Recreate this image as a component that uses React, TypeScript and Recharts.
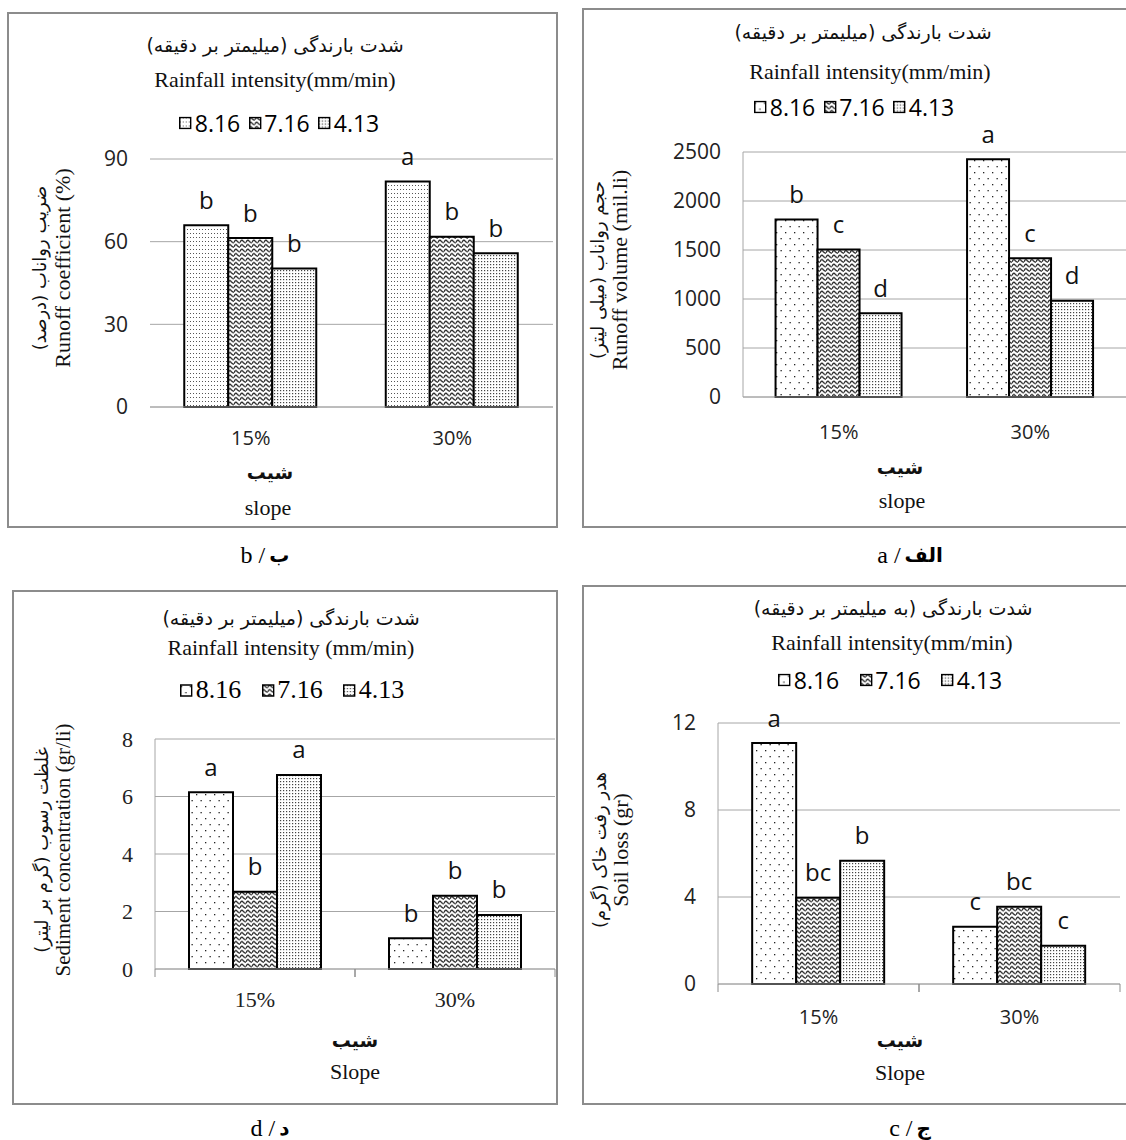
import React from 'react';
import { BarChart, Bar, XAxis, YAxis, CartesianGrid, LabelList } from 'recharts';

const slopes = ['15%', '30%'];
const intensities = ['8.16', '7.16', '4.13'];

// a - runoff volume (ml)
const volume816 = [1810, 2425];
const volume716 = [1505, 1415];
const volume413 = [855, 983];
const volumeLetters = [['b', 'a'], ['c', 'c'], ['d', 'd']];
const volumeTicks = [0, 500, 1000, 1500, 2000, 2500];

// b - runoff coefficient (%)
const coef816 = [66, 81.8];
const coef716 = [61.3, 61.8];
const coef413 = [50.3, 55.8];
const coefLetters = [['b', 'a'], ['b', 'b'], ['b', 'b']];
const coefTicks = [0, 30, 60, 90];

// c - soil loss (gr)
const loss816 = [11.08, 2.63];
const loss716 = [3.97, 3.55];
const loss413 = [5.67, 1.76];
const lossLetters = [['a', 'c'], ['bc', 'bc'], ['b', 'c']];
const lossTicks = [0, 4, 8, 12];

// d - sediment concentration (gr/li)
const sed816 = [6.15, 1.07];
const sed716 = [2.69, 2.55];
const sed413 = [6.75, 1.88];
const sedLetters = [['a', 'b'], ['b', 'b'], ['a', 'b']];
const sedTicks = [0, 2, 4, 6, 8];

const PERSIAN = "'DejaVu Sans', sans-serif";
const SERIF = "'Liberation Serif', 'Times New Roman', serif";
const SANS = "'Open Sans', sans-serif";

const buildRows = (a: number[], b: number[], c: number[], letters: string[][]) =>
  slopes.map((s, i) => ({
    slope: s,
    v0: a[i], v1: b[i], v2: c[i],
    l0: letters[0][i], l1: letters[1][i], l2: letters[2][i],
  }));

const renderLetter = (props: any) => {
  const { x, y, width, value } = props;
  return (
    <text x={Number(x) + Number(width) / 2} y={Number(y) - 26} textAnchor="middle"
      dominantBaseline="central" fontFamily={SANS} fontSize={24} fill="#111">
      {value}
    </text>
  );
};

const Txt = ({ x, y, font, size, bold, rotate, children }: any) => (
  <div style={{
    position: 'absolute', left: x, top: y, whiteSpace: 'nowrap', lineHeight: 1,
    transform: `translate(-50%, -50%)${rotate ? ' rotate(-90deg)' : ''}`,
    fontFamily: font, fontSize: size, fontWeight: bold ? 'bold' : 'normal', color: '#111',
  }}>{children}</div>
);

const Swatch = ({ fill }: { fill: string }) => (
  <svg width={13} height={13} style={{ display: 'block' }}>
    <rect x={1} y={1} width={11} height={11} fill={fill} stroke="#000" strokeWidth={1.5} />
  </svg>
);

const LegendRow = ({ x, y, fills, font, size, gap }: any) => (
  <div style={{
    position: 'absolute', left: x, top: y, transform: 'translate(-50%, -50%)',
    display: 'flex', alignItems: 'center', gap, fontFamily: font, fontSize: size, lineHeight: 1,
  }}>
    {intensities.map((t, i) => (
      <div key={t} style={{ display: 'flex', alignItems: 'center', gap: 3 }}>
        <Swatch fill={fills[i]} />
        <span>{t}</span>
      </div>
    ))}
  </div>
);

const Frame = ({ left, top, width, height }: any) => (
  <div style={{
    position: 'absolute', left, top, width, height, border: '2px solid #8c8c8c', boxSizing: 'border-box',
  }} />
);

const Caption = ({ x, y, latin, persian }: any) => (
  <div style={{ position: 'absolute', left: x, top: y, transform: 'translate(-50%, -50%)', display: 'flex', alignItems: 'center', gap: 4, lineHeight: 1 }}>
    <span style={{ fontFamily: SERIF, fontSize: 24 }}>{latin} /</span>
    <span style={{ fontFamily: PERSIAN, fontSize: 20, fontWeight: 'bold' }}>{persian}</span>
  </div>
);

const Panel = ({ rows, fills, geo, ticks, tickFont, tickSize, xFont, xSize, yLine, edgeTicks }: any) => {
  const plotW = geo.width - geo.margin.left - geo.margin.right - geo.yWidth;
  const half = plotW / (slopes.length * 2);
  const renderXTick = (props: any) => {
    const { x, y, payload } = props;
    const axisY = Number(y) - 6 - geo.xGap;
    return (
      <g>
        {edgeTicks && (
          <>
            <line x1={x - half} x2={x - half} y1={axisY} y2={axisY + 8} stroke="#8c8c8c" />
            <line x1={x + half} x2={x + half} y1={axisY} y2={axisY + 8} stroke="#8c8c8c" />
          </>
        )}
        <text x={x} y={y} dy="0.71em" textAnchor="middle" fontFamily={xFont} fontSize={xSize} fill="#222">
          {payload.value}
        </text>
      </g>
    );
  };
  return (
    <div style={{ position: 'absolute', left: geo.left, top: geo.top }}>
      <BarChart width={geo.width} height={geo.height} data={rows} margin={geo.margin}
        barCategoryGap="17%" barGap={0} style={{ overflow: 'visible' }}>
        <CartesianGrid vertical={false} stroke="#a6a6a6" />
        <XAxis dataKey="slope" axisLine={{ stroke: '#a6a6a6' }} tickLine={false} height={geo.xHeight}
          tickMargin={geo.xGap} tick={renderXTick} />
        <YAxis domain={[ticks[0], ticks[ticks.length - 1]]} ticks={ticks} width={geo.yWidth}
          axisLine={yLine ? { stroke: '#a6a6a6' } : false} tickLine={false} tickMargin={16}
          tick={{ fontFamily: tickFont, fontSize: tickSize, fill: '#222' }} />
        {[0, 1, 2].map(i => (
          <Bar key={i} dataKey={`v${i}`} fill={fills[i]} stroke="#000" strokeWidth={2}
            isAnimationActive={false}>
            <LabelList dataKey={`l${i}`} content={renderLetter} />
          </Bar>
        ))}
      </BarChart>
    </div>
  );
};

const fillsFine = ['url(#dotsFine)', 'url(#wave)', 'url(#dense)'];
const fillsSparse = ['url(#dotsSparse)', 'url(#wave)', 'url(#dense)'];

export default function App() {
  return (
    <div style={{ position: 'absolute', left: 0, top: 0, width: 1126, height: 1140, background: '#fff', overflow: 'hidden' }}>
      <svg width={0} height={0} style={{ position: 'absolute' }}>
        <defs>
          <pattern id="dotsFine" width={3} height={4} patternUnits="userSpaceOnUse">
            <rect width={3} height={4} fill="#fff" />
            <rect x={1} y={1} width={1} height={1} fill="#555" />
          </pattern>
          <pattern id="dotsSparse" width={9} height={12} patternUnits="userSpaceOnUse">
            <rect width={9} height={12} fill="#fff" />
            <rect x={1} y={2} width={1.3} height={1.3} fill="#222" />
            <rect x={5.5} y={8} width={1.3} height={1.3} fill="#222" />
          </pattern>
          <pattern id="wave" width={6} height={4.5} patternUnits="userSpaceOnUse">
            <rect width={6} height={4.5} fill="#fff" />
            <path d="M0 3.4 Q1.5 -0.2 3 2 T6 3.4" stroke="#1a1a1a" strokeWidth={1.2} fill="none" />
          </pattern>
          <pattern id="dense" width={3} height={3} patternUnits="userSpaceOnUse">
            <rect width={3} height={3} fill="#fff" />
            <rect x={1} y={1} width={1.2} height={1.2} fill="#444" />
          </pattern>
        </defs>
      </svg>

      {/* b - runoff coefficient */}
      <Frame left={7} top={12} width={551} height={516} />
      <Txt x={275} y={45} font={PERSIAN} size={19}>شدت بارندگی (میلیمتر بر دقیقه)</Txt>
      <Txt x={275} y={80} font={SERIF} size={22}>Rainfall intensity(mm/min)</Txt>
      <LegendRow x={279} y={123} fills={fillsFine} font={SANS} size={23} gap={8} />
      <Txt x={40} y={268} font={PERSIAN} size={18} rotate>ضریب رواناب (درصد)</Txt>
      <Txt x={63} y={268} font={SERIF} size={22} rotate>Runoff coefficient (%)</Txt>
      <Panel rows={buildRows(coef816, coef716, coef413, coefLetters)} fills={fillsFine}
        geo={{ left: 60, top: 140, width: 500, height: 320, margin: { top: 19, right: 7, bottom: 23, left: 0 }, yWidth: 90, xHeight: 30, xGap: 18 }}
        ticks={coefTicks} tickFont={SANS} tickSize={21} xFont={SANS} xSize={20} yLine={false} edgeTicks={false} />
      <Txt x={270} y={472} font={PERSIAN} size={19} bold>شیب</Txt>
      <Txt x={268} y={508} font={SERIF} size={22}>slope</Txt>
      <Caption x={265} y={555} latin="b" persian="ب" />

      {/* a - runoff volume */}
      <Frame left={582} top={8} width={560} height={520} />
      <Txt x={863} y={32} font={PERSIAN} size={19}>شدت بارندگی (میلیمتر بر دقیقه)</Txt>
      <Txt x={870} y={72} font={SERIF} size={22}>Rainfall intensity(mm/min)</Txt>
      <LegendRow x={854} y={107} fills={fillsSparse} font={SANS} size={23} gap={8} />
      <Txt x={598} y={270} font={PERSIAN} size={18} rotate>حجم رواناب (میلی لیتر)</Txt>
      <Txt x={620} y={270} font={SERIF} size={22} rotate>Runoff volume (mil.li)</Txt>
      <Panel rows={buildRows(volume816, volume716, volume413, volumeLetters)} fills={fillsSparse}
        geo={{ left: 640, top: 110, width: 486, height: 340, margin: { top: 42, right: 0, bottom: 23, left: 0 }, yWidth: 103, xHeight: 30, xGap: 22 }}
        ticks={volumeTicks} tickFont={SANS} tickSize={21} xFont={SANS} xSize={20} yLine edgeTicks={false} />
      <Txt x={900} y={467} font={PERSIAN} size={19} bold>شیب</Txt>
      <Txt x={902} y={501} font={SERIF} size={22}>slope</Txt>
      <Caption x={910} y={555} latin="a" persian="الف" />

      {/* d - sediment concentration */}
      <Frame left={12} top={590} width={546} height={515} />
      <Txt x={291} y={618} font={PERSIAN} size={19}>شدت بارندگی (میلیمتر بر دقیقه)</Txt>
      <Txt x={291} y={648} font={SERIF} size={22}>Rainfall intensity (mm/min)</Txt>
      <LegendRow x={292} y={690} fills={fillsSparse} font={SERIF} size={26} gap={20} />
      <Txt x={42} y={850} font={PERSIAN} size={18} rotate>غلظت رسوب (گرم بر لیتر)</Txt>
      <Txt x={63} y={850} font={SERIF} size={21} rotate>Sediment concentration (gr/li)</Txt>
      <Panel rows={buildRows(sed816, sed716, sed413, sedLetters)} fills={fillsSparse}
        geo={{ left: 60, top: 720, width: 500, height: 320, margin: { top: 19, right: 5, bottom: 41, left: 0 }, yWidth: 95, xHeight: 30, xGap: 16 }}
        ticks={sedTicks} tickFont={SERIF} tickSize={22} xFont={SERIF} xSize={22} yLine edgeTicks />
      <Txt x={355} y={1040} font={PERSIAN} size={19} bold>شیب</Txt>
      <Txt x={355} y={1072} font={SERIF} size={22}>Slope</Txt>
      <Caption x={270} y={1128} latin="d" persian="د" />

      {/* c - soil loss */}
      <Frame left={582} top={585} width={560} height={520} />
      <Txt x={893} y={608} font={PERSIAN} size={19}>شدت بارندگی (به میلیمتر بر دقیقه)</Txt>
      <Txt x={892} y={643} font={SERIF} size={22}>Rainfall intensity(mm/min)</Txt>
      <LegendRow x={890} y={680} fills={fillsSparse} font={SANS} size={23} gap={20} />
      <Txt x={600} y={850} font={PERSIAN} size={18} rotate>هدر رفت خاک (گرم)</Txt>
      <Txt x={621} y={850} font={SERIF} size={22} rotate>Soil loss (gr)</Txt>
      <Panel rows={buildRows(loss816, loss716, loss413, lossLetters)} fills={fillsSparse}
        geo={{ left: 620, top: 700, width: 506, height: 340, margin: { top: 23, right: 6, bottom: 26, left: 0 }, yWidth: 98, xHeight: 30, xGap: 20 }}
        ticks={lossTicks} tickFont={SANS} tickSize={21} xFont={SANS} xSize={20} yLine edgeTicks />
      <Txt x={900} y={1040} font={PERSIAN} size={19} bold>شیب</Txt>
      <Txt x={900} y={1073} font={SERIF} size={22}>Slope</Txt>
      <Caption x={910} y={1128} latin="c" persian="ج" />
    </div>
  );
}
